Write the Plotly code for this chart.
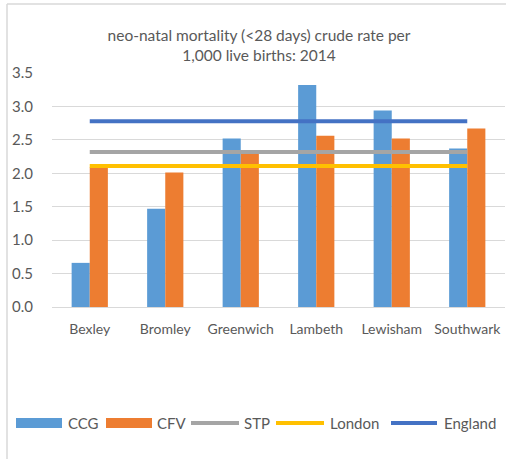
import plotly.graph_objects as go

categories = ["Bexley", "Bromley", "Greenwich", "Lambeth", "Lewisham", "Southwark"]
ccg = [0.66, 1.47, 2.52, 3.32, 2.94, 2.37]
cfv = [2.09, 2.01, 2.30, 2.56, 2.52, 2.67]
stp = [2.32, 2.32, 2.32, 2.32, 2.32, 2.32]
london = [2.11, 2.11, 2.11, 2.11, 2.11, 2.11]
england = [2.78, 2.78, 2.78, 2.78, 2.78, 2.78]
y_ticks = [0.0, 0.5, 1.0, 1.5, 2.0, 2.5, 3.0, 3.5]

FONT = "Lato"
TXT = "#595959"
C_CCG, C_CFV, C_STP, C_LON, C_ENG = "#5B9BD5", "#ED7D31", "#A5A5A5", "#FFC000", "#4472C4"

fig = go.Figure()
fig.add_trace(go.Bar(name="CCG", x=categories, y=ccg, marker=dict(color=C_CCG, line=dict(width=0))))
fig.add_trace(go.Bar(name="CFV", x=categories, y=cfv, marker=dict(color=C_CFV, line=dict(width=0))))
fig.add_trace(go.Scatter(name="STP", x=categories, y=stp, mode="lines",
                         line=dict(color=C_STP, width=4)))
fig.add_trace(go.Scatter(name="London", x=categories, y=london, mode="lines",
                         line=dict(color=C_LON, width=4)))
fig.add_trace(go.Scatter(name="England", x=categories, y=england, mode="lines",
                         line=dict(color=C_ENG, width=4)))

L, R, T, B = 52, 1, 73, 152
W, H = 506, 459
pw = W - L - R
ph = H - T - B

def px_x(p):
    return (p - L) / pw

def px_y(p):
    return (H - B - p) / ph

shapes = [
    dict(type="line", xref="paper", yref="paper", x0=px_x(7), x1=px_x(7),
         y0=px_y(470), y1=px_y(4), line=dict(color="#D9D9D9", width=1.5)),
    dict(type="line", xref="paper", yref="paper", x0=px_x(7), x1=px_x(520),
         y0=px_y(4), y1=px_y(4), line=dict(color="#D9D9D9", width=1.5)),
]
annotations = []

LEG_Y = 423
legend_items = [
    ("CCG", "box", C_CCG, 16, 62, 66),
    ("CFV", "box", C_CFV, 106, 152, 155),
    ("STP", "line", C_STP, 191, 239, 242),
    ("London", "line", C_LON, 276, 324, 328),
    ("England", "line", C_ENG, 391, 437, 442),
]
for name, kind, col, s0, s1, tx in legend_items:
    if kind == "box":
        shapes.append(dict(type="rect", xref="paper", yref="paper",
                           x0=px_x(s0), x1=px_x(s1), y0=px_y(LEG_Y + 5), y1=px_y(LEG_Y - 5),
                           fillcolor=col, line=dict(width=0)))
    else:
        shapes.append(dict(type="line", xref="paper", yref="paper",
                           x0=px_x(s0), x1=px_x(s1), y0=px_y(LEG_Y), y1=px_y(LEG_Y),
                           line=dict(color=col, width=4)))
    annotations.append(dict(text=name, xref="paper", yref="paper", x=px_x(tx), y=px_y(LEG_Y),
                            xanchor="left", yanchor="middle", showarrow=False,
                            font=dict(family=FONT, size=15, color=TXT)))

fig.update_layout(
    width=W, height=H,
    margin=dict(l=L, r=R, t=T, b=B, pad=0, autoexpand=False),
    paper_bgcolor="white", plot_bgcolor="white",
    barmode="group", bargap=0.52, bargroupgap=0,
    font=dict(family=FONT, color=TXT, size=14),
    title=dict(text="neo-natal mortality (<28 days) crude rate per<br>1,000 live births: 2014",
               x=px_x(259), xanchor="center", xref="paper",
               y=1 - 40.5 / H, yanchor="middle", yref="container",
               font=dict(family=FONT, size=15.5, color=TXT)),
    showlegend=False,
    hovermode=False,
    xaxis=dict(showgrid=False, showline=False, zeroline=False, automargin=False,
               ticks="outside", ticklen=9, tickcolor="rgba(0,0,0,0)",
               tickfont=dict(family=FONT, size=14, color=TXT)),
    yaxis=dict(range=[0, 3.5], tickvals=y_ticks, ticktext=[f"{v:.1f}" for v in y_ticks],
               automargin=False,
               showgrid=True, gridcolor="#D9D9D9", gridwidth=1,
               zeroline=True, zerolinecolor="#D9D9D9", zerolinewidth=1,
               showline=False, ticks="outside", ticklen=15, tickcolor="rgba(0,0,0,0)",
               tickfont=dict(family=FONT, size=15, color=TXT)),
    shapes=shapes,
    annotations=annotations,
)

fig.write_html("out.html",
               config={"displayModeBar": False, "staticPlot": True},
               post_script="document.documentElement.style.overflow='hidden';"
                           "document.body.style.margin='0';document.body.style.overflow='hidden';")
